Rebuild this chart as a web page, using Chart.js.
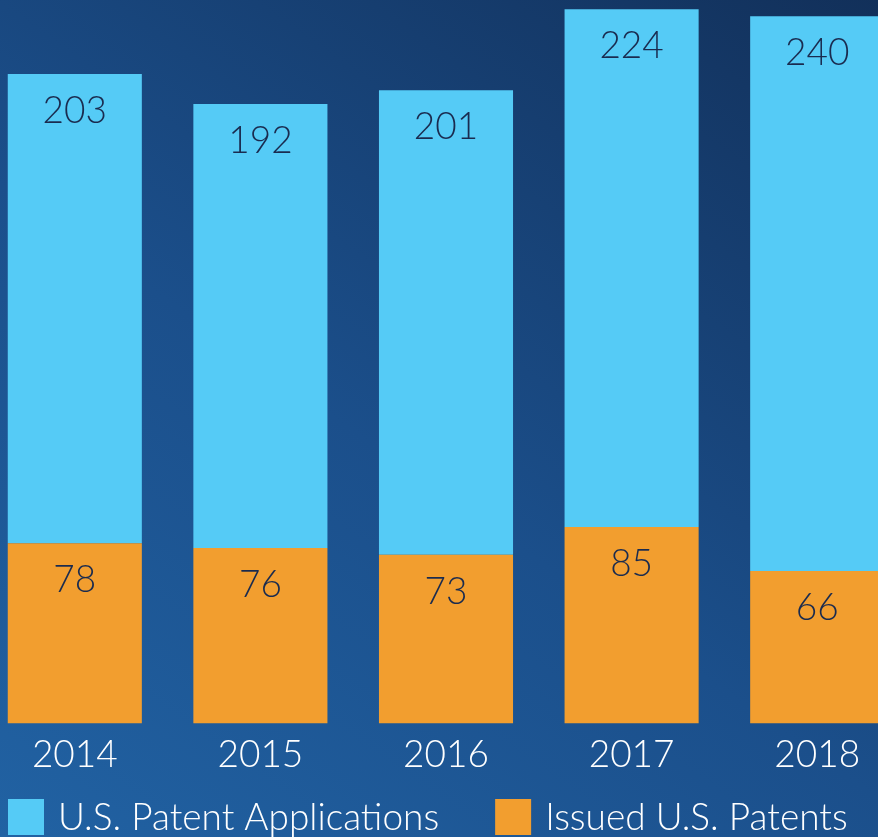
<!DOCTYPE html>
<html>
<head>
<meta charset="utf-8">
<script src="https://cdn.jsdelivr.net/npm/chart.js@4"></script>
<style>
  html, body { margin: 0; padding: 0; width: 878px; height: 837px; overflow: hidden; }
  body { background: linear-gradient(35deg, #2162a3 0%, #1b4f8b 45%, #12305a 100%); position: relative; }
  #wrap { position: absolute; left: -18px; top: 0; width: 928px; height: 837px; }
</style>
</head>
<body>
<div id="wrap"><canvas id="patentChart"></canvas></div>
<script>
var years = ['2014', '2015', '2016', '2017', '2018'];
var issuedPatents = [78, 76, 73, 85, 66];
var patentApplications = [203, 192, 201, 224, 240];
var seriesNames = ['U.S. Patent Applications', 'Issued U.S. Patents'];

var BLUE = '#55cbf6';
var ORANGE = '#f29e2f';
var FONT = 'Lato, "Noto Sans", sans-serif';

var valueLabels = {
    id: 'valueLabels',
    afterDatasetsDraw: (chart) => {
        const ctx = chart.ctx;
        ctx.save();
        ctx.font = '300 37px ' + FONT;
        ctx.fillStyle = '#1a2b4f';
        ctx.textAlign = 'center';
        ctx.textBaseline = 'middle';
        chart.data.datasets.forEach((ds, i) => {
            chart.getDatasetMeta(i).data.forEach((bar, j) => {
                ctx.fillText(String(ds.data[j]), bar.x, bar.y + 37);
            });
        });
        ctx.restore();
    }
};

// legend drawn by hand so it sits left-aligned like the original
var bottomLegend = {
    id: 'bottomLegend',
    afterDraw: (chart) => {
        const ctx = chart.ctx;
        ctx.save();
        ctx.font = '300 37px ' + FONT;
        ctx.textBaseline = 'middle';
        ctx.textAlign = 'left';
        let x = 26;
        const y = 799;
        const box = 36;
        [1, 0].forEach((i) => {
            const ds = chart.data.datasets[i];
            ctx.fillStyle = ds.backgroundColor;
            ctx.fillRect(x, y, box, box);
            ctx.fillStyle = '#ffffff';
            ctx.fillText(ds.label, x + box + 14, y + box / 2 + 1);
            x += box + 14 + ctx.measureText(ds.label).width + 56;
        });
        ctx.restore();
    }
};

var chart_patents = new Chart(document.getElementById('patentChart'), {
    type: 'bar',
    data: {
        labels: years,
        datasets: [
            {
                label: seriesNames[1],
                data: issuedPatents,
                backgroundColor: ORANGE,
                borderWidth: 0,
                barPercentage: 0.7224,
                categoryPercentage: 1
            },
            {
                label: seriesNames[0],
                data: patentApplications,
                backgroundColor: BLUE,
                borderWidth: 0,
                barPercentage: 0.7224,
                categoryPercentage: 1
            }
        ]
    },
    options: {
        animation: false,
        responsive: true,
        maintainAspectRatio: false,
        layout: {
            padding: { top: 0, left: 0, right: 0, bottom: 51 }
        },
        plugins: {
            legend: { display: false },
            tooltip: { enabled: false }
        },
        scales: {
            x: {
                stacked: true,
                grid: { display: false, drawTicks: false },
                border: { display: false },
                ticks: {
                    color: '#ffffff',
                    padding: 9,
                    font: { family: FONT, size: 37, weight: '300' }
                }
            },
            y: {
                stacked: true,
                display: false,
                min: 0,
                max: 313
            }
        }
    },
    plugins: [valueLabels, bottomLegend]
});
</script>
</body>
</html>
